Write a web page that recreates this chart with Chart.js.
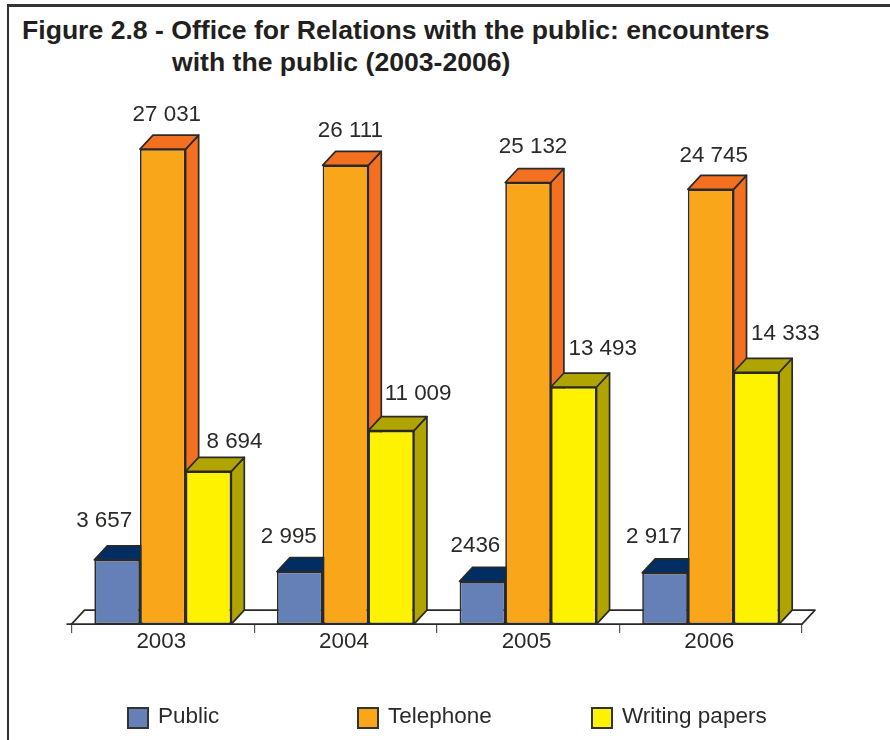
<!DOCTYPE html>
<html>
<head>
<meta charset="utf-8">
<script src="https://cdn.jsdelivr.net/npm/chart.js@4"></script>
<style>
  html, body { margin: 0; padding: 0; background: #fff; }
  body { width: 890px; height: 740px; overflow: hidden; position: relative; font-family: "Liberation Sans", Arial, sans-serif; color: #2b2a29; }
  #frame { position: absolute; left: 7px; top: 4px; width: 883px; height: 736px; border-left: 2.5px solid #333; border-top: 3px solid #333; box-sizing: border-box; }
  .title { position: absolute; font-weight: bold; font-size: 26.6px; line-height: 30px; white-space: nowrap; color: #231f20; }
  #chartbox { position: absolute; left: 0; top: 0; width: 890px; height: 740px; }
  .leg { position: absolute; top: 703px; font-size: 22.5px; line-height: 26px; white-space: nowrap; }
  .leg i { position: absolute; left: -31px; top: 4px; width: 22px; height: 22px; box-sizing: border-box; border: 2px solid #333; }
</style>
</head>
<body>
<div id="frame"></div>
<div class="title" style="left:22px;top:15px">Figure 2.8 - Office for Relations with the public: encounters</div>
<div class="title" style="left:172px;top:47px">with the public (2003-2006)</div>
<div id="chartbox"><canvas id="chart" width="890" height="740"></canvas></div>
<div id="legend"></div>

<script>
const years     = ['2003', '2004', '2005', '2006'];
const seriesNames = ['Public', 'Telephone', 'Writing papers'];
const publicVals    = [3657, 2995, 2436, 2917];
const telephoneVals = [27031, 26111, 25132, 24745];
const writingVals   = [8694, 11009, 13493, 14333];
const publicLabels    = ['3 657', '2 995', '2436', '2 917'];
const telephoneLabels = ['27 031', '26 111', '25 132', '24 745'];
const writingLabels   = ['8 694', '11 009', '13 493', '14 333'];

const EDGE = '#2b2a29';
const DEPTH_X = 13, DEPTH_Y = 14;
const frontColors = ['#6480b6', '#faa61a', '#fff200'];
const darkColors  = ['#002d62', '#f37021', '#b0a400'];
const seriesLabels = [publicLabels, telephoneLabels, writingLabels];
// hand nudges for the value labels, the original placed them by hand [dx, gap above bar top]
const labelNudge = [
    [[-13, 33], [-11, 28], [-7, 29], [-11, 30]],
    [[4, 28], [5, 28], [5, 30], [3, 27]],
    [[26, 23], [27, 31], [29, 32], [29, 32]]
];
const legendX = [158, 388, 622];

function poly(ctx, pts, fill) {
    ctx.beginPath();
    pts.forEach((p, i) => i ? ctx.lineTo(p[0], p[1]) : ctx.moveTo(p[0], p[1]));
    ctx.closePath();
    ctx.fillStyle = fill;
    ctx.fill();
    ctx.stroke();
}

const boxes3d = {
    id: 'boxes3d',
    beforeDatasetsDraw(chart) {
        const { ctx, chartArea } = chart;
        const base = chartArea.bottom;
        ctx.save();
        ctx.strokeStyle = EDGE;
        ctx.lineWidth = 1.7;
        ctx.lineJoin = 'round';
        // floor
        poly(ctx, [[chartArea.left, base], [chartArea.left + DEPTH_X, base - DEPTH_Y],
                   [chartArea.right + DEPTH_X, base - DEPTH_Y], [chartArea.right, base]], '#fff');
        // axis line runs a little past the first tick
        ctx.beginPath();
        ctx.moveTo(chartArea.left - 5, base);
        ctx.lineTo(chartArea.left, base);
        ctx.stroke();
        chart.data.datasets.forEach((ds, i) => {
            chart.getDatasetMeta(i).data.forEach(bar => {
                const p = bar.getProps(['x', 'y', 'width'], true);
                const l = p.x - p.width / 2, r = p.x + p.width / 2, t = p.y;
                poly(ctx, [[r, t], [r + DEPTH_X, t - DEPTH_Y], [r + DEPTH_X, base - DEPTH_Y], [r, base]], darkColors[i]);
                poly(ctx, [[l, t], [l + DEPTH_X, t - DEPTH_Y], [r + DEPTH_X, t - DEPTH_Y], [r, t]], darkColors[i]);
            });
        });
        ctx.restore();
    },
    afterDatasetsDraw(chart) {
        const { ctx } = chart;
        ctx.save();
        ctx.font = '22.4px "Liberation Sans", Arial, sans-serif';
        ctx.fillStyle = EDGE;
        ctx.textAlign = 'center';
        ctx.textBaseline = 'alphabetic';
        chart.data.datasets.forEach((ds, i) => {
            chart.getDatasetMeta(i).data.forEach((bar, j) => {
                const p = bar.getProps(['x', 'y'], true);
                const n = labelNudge[i][j];
                ctx.fillText(seriesLabels[i][j], p.x + n[0], p.y - n[1]);
            });
        });
        ctx.restore();
    }
};

const datasets = [publicVals, telephoneVals, writingVals].map((vals, i) => ({
    label: seriesNames[i],
    data: vals,
    backgroundColor: frontColors[i],
    borderColor: EDGE,
    borderWidth: 1.7,
    borderSkipped: false,
    categoryPercentage: 0.75,
    barPercentage: 1
}));

new Chart(document.getElementById('chart'), {
    type: 'bar',
    data: { labels: years, datasets: datasets },
    plugins: [boxes3d],
    options: {
        responsive: false,
        animation: false,
        layout: { padding: { left: 71.5, right: 88, top: 97, bottom: 90 } },
        plugins: { legend: { display: false }, tooltip: { enabled: false } },
        scales: {
            x: {
                grid: { drawOnChartArea: false, color: '#555', tickLength: 9, lineWidth: 1.2 },
                border: { color: EDGE, width: 2 },
                ticks: { color: EDGE, font: { size: 22.4, family: '"Liberation Sans", Arial, sans-serif' }, padding: -5, labelOffset: -1.5, maxRotation: 0 }
            },
            y: { display: false, min: 0, max: 30000 }
        }
    }
});

// legend sits outside the canvas because the gaps are uneven in the original
const legendEl = document.getElementById('legend');
seriesNames.forEach((name, i) => {
    const item = document.createElement('div');
    item.className = 'leg';
    item.style.left = legendX[i] + 'px';
    item.innerHTML = '<i style="background:' + frontColors[i] + '"></i>' + name;
    legendEl.appendChild(item);
});
</script>
</body>
</html>
